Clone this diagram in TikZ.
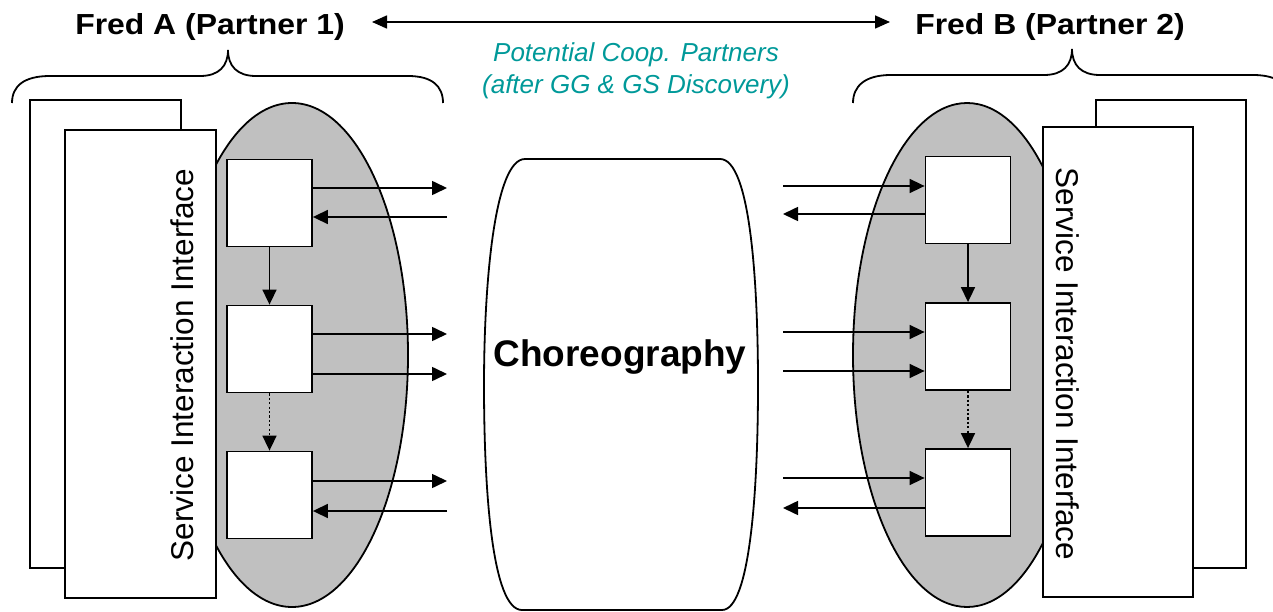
\documentclass[tikz,border=0pt]{standalone}
\usepackage{fontspec}
\setmainfont{Liberation Sans}
\usetikzlibrary{arrows.meta}
\definecolor{coopteal}{RGB}{0,153,153}
\definecolor{poolgray}{RGB}{192,192,192}
\begin{document}
\begin{tikzpicture}[x=1pt,y=-1pt,
  outline/.style={draw,line width=1.8pt},
  panel/.style={draw,fill=white,line width=1.8pt},
  pool/.style={draw,fill=poolgray,line width=1.8pt},
  lane/.style={draw,fill=white,line width=1.8pt,minimum width=85pt,minimum height=87pt,inner sep=0pt},
  msg/.style={line width=1.6pt,-{Triangle[length=15pt,width=14pt]}},
  twoway/.style={line width=1.6pt,{Triangle[length=15pt,width=13pt]}-{Triangle[length=15pt,width=13pt]}},
  dotline/.style={dash pattern=on 2.2pt off 2.2pt},
  heading/.style={font=\fontsize{29}{34}\selectfont\bfseries,inner sep=0pt,anchor=base,xscale=1.1},
  sideways/.style={font=\fontsize{31.5}{36}\selectfont,inner sep=0pt,anchor=base},
  brace/.style={draw,line width=1.8pt}]
\useasboundingbox (0,0) rectangle (1273,612);

% partner headings and the discovery link between them
\node[heading] (FA) at (210,35) {Fred A (Partner 1)};
\node[heading] (FB) at (1050,35) {Fred B (Partner 2)};
\coordinate (linkL) at (372,22);
\coordinate (linkR) at (890,22);
\draw[twoway] (linkL) -- (linkR);
\node[font=\fontsize{26}{32.5}\selectfont\itshape,text=coopteal,align=center,inner sep=0pt,anchor=center]
  (coop) at (636,71) {Potential Coop. Partners\\(after GG \& GS Discovery)};

% curly braces over each partner
\draw[brace] (12,103) .. controls (12,86) and (24,76) .. (50,76) -- (200,76)
  .. controls (219,76) and (228,66) .. (228,50)
  .. controls (228,66) and (237,76) .. (256,76) -- (408,76)
  .. controls (432,76) and (443,86) .. (443,103);
\begin{scope}
\clip (0,0) rectangle (1273,612);
\draw[brace] (853,103) .. controls (853,86) and (865,75) .. (891,75) -- (1044,75)
  .. controls (1063,75) and (1072,65) .. (1072,49)
  .. controls (1072,65) and (1081,75) .. (1100,75) -- (1253,75)
  .. controls (1279,75) and (1291,86) .. (1291,103);
\end{scope}

% process pools
\draw[pool] (292,355) ellipse (116 and 252);
\draw[pool] (967,355) ellipse (114 and 252);

% service interaction interface panels
\draw[panel] (30,100) rectangle (181,568);
\draw[panel] (65,130) rectangle (216,598);
\node[sideways,rotate=90] (sifA) at (193,365) {Service Interaction Interface};
\draw[panel] (1096,100) rectangle (1246,568);
\draw[panel] (1043,127) rectangle (1193,597);
\node[sideways,rotate=-90] (sifB) at (1056,364) {Service Interaction Interface};

% choreography
\draw[outline] (525,159) -- (720,159) .. controls (750,159) and (758,280) .. (758,385)
  .. controls (758,490) and (750,610) .. (722,610) -- (522,610)
  .. controls (492,610) and (484,490) .. (484,385)
  .. controls (484,280) and (495,159) .. (525,159) -- cycle;
\node[font=\fontsize{37}{40}\selectfont\bfseries,inner sep=0pt] (chor) at (620,357) {Choreography};

% activities of partner 1
\node[lane] (A1) at (269.5,203) {};
\node[lane] (A2) at (269.5,349) {};
\node[lane] (A3) at (269.5,495) {};
\draw[msg] (A1) -- (A2);
\draw[msg,dotline] (A2) -- (A3);

% activities of partner 2
\node[lane] (B1) at (968,200) {};
\node[lane] (B2) at (968,346.5) {};
\node[lane] (B3) at (968,492.5) {};
\draw[msg] (B1) -- (B2);
\draw[msg,dotline] (B2) -- (B3);

% message ends facing the choreography
\coordinate (la1) at (447,188);
\coordinate (la2) at (447,217);
\coordinate (la3) at (447,334);
\coordinate (la4) at (447,374);
\coordinate (la5) at (447,481);
\coordinate (la6) at (447,511);
\coordinate (rb1) at (783,186);
\coordinate (rb2) at (783,214);
\coordinate (rb3) at (783,332);
\coordinate (rb4) at (783,371);
\coordinate (rb5) at (783,478);
\coordinate (rb6) at (783,508);

\draw[msg] (A1.east |- la1) -- (la1);
\draw[msg] (la2) -- (A1.east |- la2);
\draw[msg] (A2.east |- la3) -- (la3);
\draw[msg] (A2.east |- la4) -- (la4);
\draw[msg] (A3.east |- la5) -- (la5);
\draw[msg] (la6) -- (A3.east |- la6);

\draw[msg] (rb1) -- (B1.west |- rb1);
\draw[msg] (B1.west |- rb2) -- (rb2);
\draw[msg] (rb3) -- (B2.west |- rb3);
\draw[msg] (rb4) -- (B2.west |- rb4);
\draw[msg] (rb5) -- (B3.west |- rb5);
\draw[msg] (B3.west |- rb6) -- (rb6);
\end{tikzpicture}
\end{document}
